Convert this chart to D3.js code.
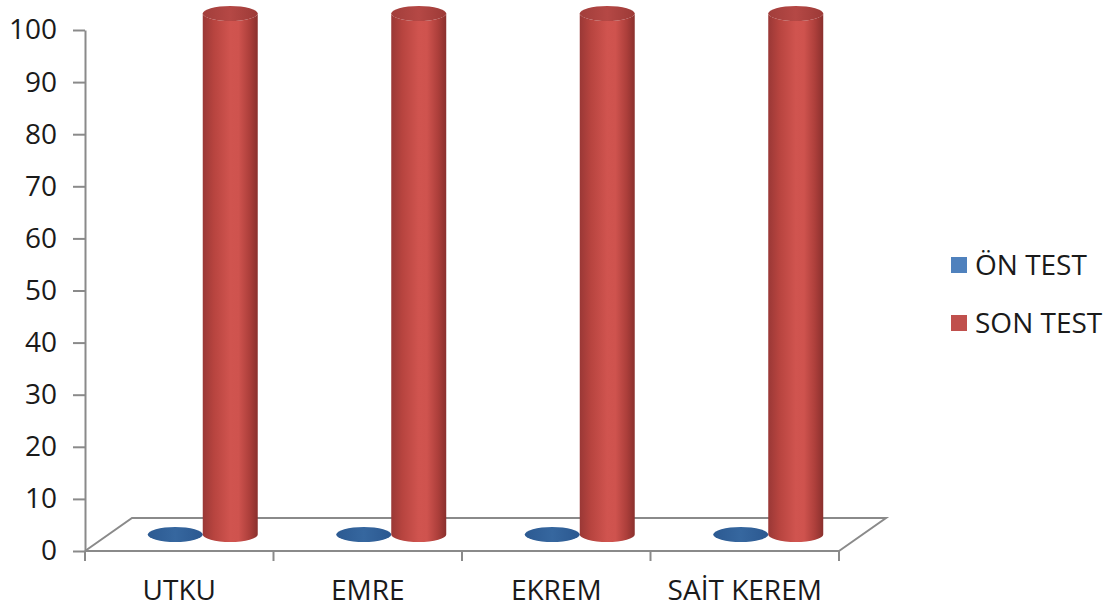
<!DOCTYPE html>
<html><head><meta charset="utf-8">
<script src="https://cdn.jsdelivr.net/npm/d3@7"></script>
<style>html,body{margin:0;padding:0;background:#fff;}svg{display:block;}</style>
</head><body>
<svg id="c" width="1110" height="608"></svg>
<script>
const categories = ["UTKU", "EMRE", "EKREM", "SAİT KEREM"];
const seriesNames = ["ÖN TEST", "SON TEST"];
const onTest = [0, 0, 0, 0];
const sonTest = [100, 100, 100, 100];
const yTicks = [0, 10, 20, 30, 40, 50, 60, 70, 80, 90, 100];

const svg = d3.select("#c");
const FONT = "'Open Sans', sans-serif";
const axisColor = "#8a8a8a";
const textColor = "#1a1a1a";

const plotLeft = 85, plotRight = 839;
const y = d3.scaleLinear().domain([0, 100]).range([551, 30]);
const x0 = d3.scaleBand().domain(categories).range([plotLeft, plotRight]).paddingInner(0).paddingOuter(0);
const x1 = d3.scaleBand().domain(seriesNames).range([0, x0.bandwidth()]).paddingInner(0).paddingOuter(0.714);
const depthX = 47, depthY = -33;
const halfDX = depthX / 2, halfDY = depthY / 2;

const defs = svg.append("defs");
function cylGrad(id, stops) {
  const g = defs.append("linearGradient").attr("id", id).attr("x1", "0%").attr("x2", "100%").attr("y1", "0%").attr("y2", "0%");
  stops.forEach(s => g.append("stop").attr("offset", s[0]).attr("stop-color", s[1]));
}
cylGrad("redBody", [["0%", "#9a3836"], ["20%", "#b7443f"], ["50%", "#d0544f"], ["65%", "#cf534e"], ["85%", "#ad3f3b"], ["100%", "#8a302d"]]);
cylGrad("redTop", [["0%", "#a23e3b"], ["50%", "#b54845"], ["100%", "#9c3a37"]]);
cylGrad("blueTop", [["0%", "#2c5a92"], ["50%", "#36679f"], ["100%", "#2b5890"]]);

// floor
const g = svg.append("g");
const fy = y(0);
g.append("path")
  .attr("d", `M${plotLeft},${fy} L${plotLeft + depthX},${fy + depthY} L${plotRight + depthX},${fy + depthY} L${plotRight},${fy}`)
  .attr("fill", "none").attr("stroke", axisColor).attr("stroke-width", 2);

// y axis
const yAxis = d3.axisLeft(y).tickValues(yTicks).tickSize(12).tickPadding(16).tickSizeOuter(0);
const ya = svg.append("g").attr("transform", `translate(${plotLeft},0)`).call(yAxis);
ya.select(".domain").attr("stroke", axisColor).attr("stroke-width", 2);
ya.selectAll(".tick line").attr("stroke", axisColor).attr("stroke-width", 2);
ya.selectAll(".tick text").attr("font-family", FONT).attr("font-size", 28).attr("fill", textColor);

// x axis
const xa = svg.append("g").attr("transform", `translate(0,${fy})`);
xa.append("line").attr("x1", plotLeft).attr("x2", plotRight).attr("y1", 0).attr("y2", 0).attr("stroke", axisColor).attr("stroke-width", 2);
const bounds = categories.map(c => x0(c)).concat([plotRight]);
xa.selectAll("line.tk").data(bounds).enter().append("line").attr("class", "tk")
  .attr("x1", d => d).attr("x2", d => d).attr("y1", 0).attr("y2", 10)
  .attr("stroke", axisColor).attr("stroke-width", 2);
xa.selectAll("text").data(categories).enter().append("text")
  .attr("x", d => x0(d) + x0.bandwidth() / 2).attr("y", 49)
  .attr("text-anchor", "middle").attr("font-family", FONT).attr("font-size", 28).attr("fill", textColor)
  .text(d => d);

// cylinders
const rx = x1.bandwidth() / 2;
const ry = 7.5;
function drawCyl(cx, v, bodyFill, topFill) {
  const cxs = cx + halfDX;
  const yb = y(0) + halfDY;
  const yt = y(v) + halfDY;
  const cg = svg.append("g");
  if (yb - yt > 0.5) {
    cg.append("path")
      .attr("d", `M${cxs - rx},${yt} L${cxs - rx},${yb} A${rx},${ry} 0 0 0 ${cxs + rx},${yb} L${cxs + rx},${yt} A${rx},${ry} 0 0 1 ${cxs - rx},${yt} Z`)
      .attr("fill", bodyFill);
  }
  cg.append("ellipse").attr("cx", cxs).attr("cy", yt).attr("rx", rx).attr("ry", ry).attr("fill", topFill);
}
categories.forEach((c, i) => {
  drawCyl(x0(c) + x1("ÖN TEST") + rx, onTest[i], "#2f5e96", "url(#blueTop)");
  drawCyl(x0(c) + x1("SON TEST") + rx, sonTest[i], "url(#redBody)", "url(#redTop)");
});

// legend
const legendColors = ["#4f81bd", "#c0504d"];
const lg = svg.append("g");
seriesNames.forEach((s, i) => {
  const cy = 265 + i * 58;
  lg.append("rect").attr("x", 951).attr("y", cy - 8).attr("width", 16).attr("height", 16).attr("fill", legendColors[i]);
  lg.append("text").attr("x", 975).attr("y", cy + 10).attr("font-family", FONT).attr("font-size", 28).attr("fill", textColor).text(s);
});
</script>
</body></html>
